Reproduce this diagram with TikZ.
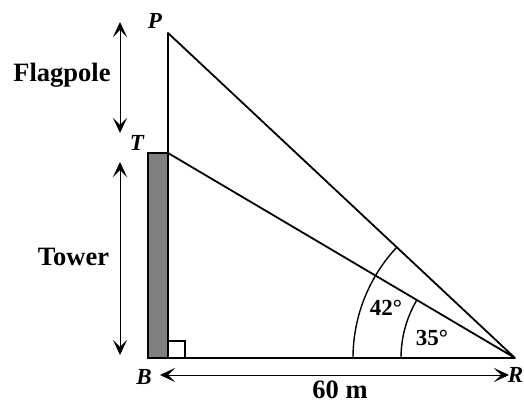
\documentclass[tikz,border=0pt]{standalone}
\usepackage{fontspec}
\setmainfont{Liberation Serif}
\usetikzlibrary{arrows.meta,calc}
\begin{document}
\begin{tikzpicture}[x=1pt,y=1pt,
  thick line/.style={line width=1.8pt},
  tip/.tip={Stealth[length=15pt,width=14pt,inset=7pt]},
  dim/.style={line width=1pt,tip-tip},
  ptlabel/.style={font=\fontsize{23}{23}\selectfont\bfseries\itshape},
  biglabel/.style={font=\fontsize{26.5}{26.5}\selectfont\bfseries},
  anglabel/.style={font=\fontsize{23}{23}\selectfont\bfseries}]
\useasboundingbox (0,0) rectangle (524,404);
\coordinate (B) at (168,46);
\coordinate (T) at (168,251);
\coordinate (P) at (168,371);
\coordinate (R) at (515,46);
% tower
\draw[line width=1.5pt, fill={rgb,255:red,128;green,128;blue,128}] (148,46) rectangle (T);
% right angle mark
\draw[line width=1.2pt] ($(B)+(0,17)$) -- ++(17,0) -- ++(0,-17);
% lines
\draw[thick line, line join=round] (B) -- (P) -- (R) -- (T);
\draw[thick line] (148,46) -- (R);
% arcs
\draw[line width=1.4pt] let \p1=($(T)-(R)$), \n1={atan2(\y1,\x1)} in
  ($(R)+(180:114)$) arc[start angle=180, end angle=\n1, radius=114];
\draw[line width=1.4pt] let \p1=($(P)-(R)$), \n1={atan2(\y1,\x1)} in
  ($(R)+(180:162)$) arc[start angle=180, end angle=\n1, radius=162];
% dimension arrows
\coordinate (fa) at (120,382);
\coordinate (fb) at (120,271);
\coordinate (ta) at (120,242);
\coordinate (tb) at (120,49);
\coordinate (ha) at (160,29);
\coordinate (hb) at (509,29);
\draw[dim] (fa) -- (fb);
\draw[dim] (ta) -- (tb);
\draw[dim] (ha) -- (hb);
% labels
\node[ptlabel] (Pl) at (155,383) {P};
\node[ptlabel] (Tl) at (137,261) {T};
\node[ptlabel] (Bl) at (144,27) {B};
\node[ptlabel, anchor=east, inner sep=0.5pt] (Rl) at (524,29) {R};
\node[biglabel] (fl) at (62,329) {Flagpole};
\node[biglabel] (tl) at (73.5,147) {Tower};
\node[biglabel, anchor=base, inner sep=0pt] (ml) at (340,6) {60 m};
\node[anglabel] (a42) at (386,96) {42°};
\node[anglabel] (a35) at (432,66) {35°};
\end{tikzpicture}
\end{document}
